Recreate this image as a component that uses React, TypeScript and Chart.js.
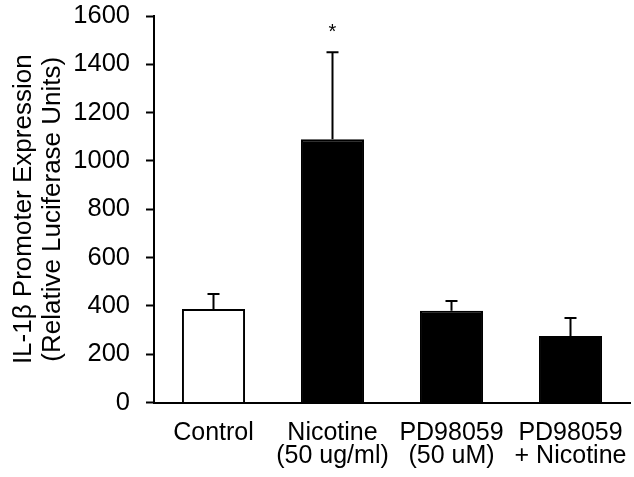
import React, { useEffect, useRef } from "react";
import { Chart, registerables } from "chart.js";

Chart.register(...registerables);

const categories: (string | string[])[] = [
  "Control",
  ["Nicotine", "(50 ug/ml)"],
  ["PD98059", "(50 uM)"],
  ["PD98059", "+ Nicotine"],
];
const means = [387, 1090, 380, 275];
const errors = [62, 360, 40, 75];
const significance = ["", "*", "", ""];
const barFill = ["#ffffff", "#000000", "#000000", "#000000"];
const yTicks = [0, 200, 400, 600, 800, 1000, 1200, 1400, 1600];
const yTitle = ["IL-1\u03B2 Promoter Expression", "(Relative Luciferase Units)"];

const FONT = "'Liberation Sans', Arial, sans-serif";

const errorBarPlugin = {
  id: "errorBars",
  afterDatasetsDraw(chart: any) {
    const ctx = chart.ctx;
    const meta = chart.getDatasetMeta(0);
    const yScale = chart.scales.y;
    ctx.save();
    ctx.strokeStyle = "#000";
    ctx.lineWidth = 2;
    meta.data.forEach((bar: any, i: number) => {
      const x = bar.x;
      const yTop = yScale.getPixelForValue(means[i]);
      const yErr = yScale.getPixelForValue(means[i] + errors[i]);
      ctx.beginPath();
      ctx.moveTo(x, yTop);
      ctx.lineTo(x, yErr);
      ctx.moveTo(x - 6, yErr);
      ctx.lineTo(x + 6, yErr);
      ctx.stroke();
      if (significance[i]) {
        ctx.fillStyle = "#000";
        ctx.font = `20px ${FONT}`;
        ctx.textAlign = "center";
        ctx.textBaseline = "middle";
        ctx.fillText(significance[i], x, yErr - 20);
      }
    });
    ctx.restore();
  },
};

export default function App() {
  const ref = useRef<HTMLCanvasElement | null>(null);
  useEffect(() => {
    if (!ref.current) return;
    const chart = new Chart(ref.current, {
      type: "bar",
      data: {
        labels: categories as any,
        datasets: [
          {
            data: means,
            backgroundColor: barFill,
            borderColor: "#000",
            borderWidth: 2,
            categoryPercentage: 1,
            barPercentage: 0.53,
          },
        ],
      },
      options: {
        responsive: false,
        animation: false,
        layout: { padding: { left: 0, top: 16, right: 4, bottom: 0 } },
        plugins: { legend: { display: false }, tooltip: { enabled: false } },
        scales: {
          x: {
            offset: true,
            grid: { display: false, drawTicks: false },
            border: { display: true, color: "#000", width: 2 },
            ticks: {
              color: "#000",
              font: { family: FONT, size: 25, lineHeight: 0.92 },
              padding: 19,
              maxRotation: 0,
              autoSkip: false,
            },
            afterFit: (s: any) => {
              s.height = 74.5;
              s.paddingLeft = 0;
              s.paddingRight = 0;
            },
          },
          y: {
            min: 0,
            max: 1600,
            afterBuildTicks: (s: any) => {
              s.ticks = yTicks.map((v) => ({ value: v }));
            },
            grid: {
              drawOnChartArea: false,
              drawTicks: true,
              tickLength: 8,
              tickWidth: 2,
              color: "#000",
            },
            border: { display: true, color: "#000", width: 2 },
            ticks: {
              color: "#000",
              font: { family: FONT, size: 25.5 },
              padding: 16,
              callback: (v: any) => String(v),
            },
            title: {
              display: true,
              text: yTitle,
              color: "#000",
              font: { family: FONT, size: 26, lineHeight: 1.1 },
              padding: { top: 10, bottom: 0 },
            },
            afterFit: (s: any) => {
              s.width = 154;
              s.paddingTop = 0;
              s.paddingBottom = 0;
            },
          },
        },
      },
      plugins: [errorBarPlugin],
    });
    return () => chart.destroy();
  }, []);
  return (
    <canvas
      ref={ref}
      width={634}
      height={477}
      style={{ position: "fixed", left: 0, top: 0, display: "block" }}
    />
  );
}
